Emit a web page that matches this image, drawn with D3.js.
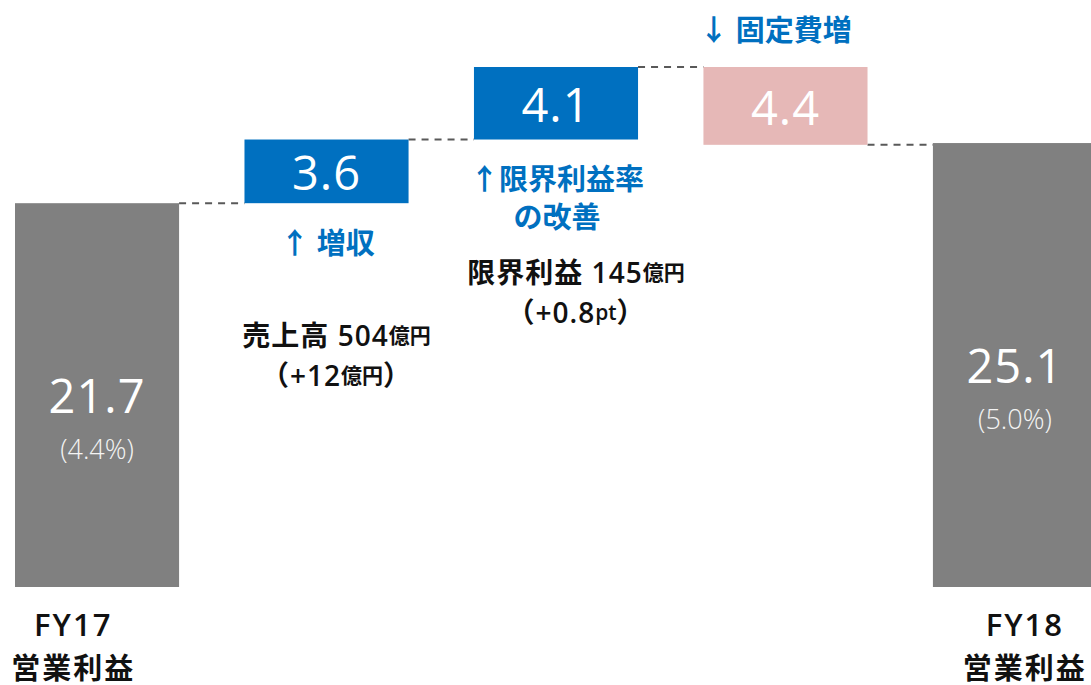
<!DOCTYPE html>
<html>
<head>
<meta charset="utf-8">
<script src="https://cdn.jsdelivr.net/npm/d3@7"></script>
<style>
  body { margin: 0; background: #fff; }
  text { font-family: 'Open Sans', 'Noto Sans CJK JP', sans-serif; }
</style>
</head>
<body>
<div id="chart"></div>
<script>
const steps = ['FY17', '増収', '限界利益率の改善', '固定費増', 'FY18']
const values = [21.7, 3.6, 4.1, -4.4, 25.1]
const kinds = ['total', 'up', 'up', 'down', 'total']
const valueLabels = ['21.7', '3.6', '4.1', '4.4', '25.1']
const ratioLabels = ['(4.4%)', '', '', '', '(5.0%)']
const categoryLabels = [['FY17', '営業利益'], [], [], [], ['FY18', '営業利益']]
const driverLabels = [[], ['↑ 増収'], ['↑限界利益率', 'の改善'], ['↓  固定費増'], []]
const detailLines = [
  [],
  [['売上高 504', '億円'], ['（+12', '億円', '）']],
  [['限界利益 145', '億円'], ['（+0.8', 'pt', '）']],
  [],
  []
]

const colors = { total: '#808080', up: '#0070c0', down: '#e6b8b7' }
const blue = '#0070c0'

const margin = { top: 67, left: 15, right: -6, bottom: 98 }
const width = 1091 - margin.left - margin.right
const height = 685 - margin.top - margin.bottom

const svg = d3
  .select('#chart')
  .append('svg')
  .attr('width', 1091)
  .attr('height', 685)
  .append('g')
  .attr('transform', `translate(${margin.left},${margin.top})`)

// running totals for the waterfall
let cum = 0
const bars = steps.map((s, i) => {
  let y0, y1
  if (kinds[i] === 'total') {
    y0 = 0
    y1 = values[i]
    cum = values[i]
  } else {
    y0 = cum
    y1 = cum + values[i]
    cum = y1
  }
  return { step: s, i, kind: kinds[i], y0, y1, end: kinds[i] === 'total' ? values[i] : y1 }
})

const xScale = d3
  .scaleBand()
  .domain(steps)
  .range([0, width])
  .paddingInner(0.285)
  .paddingOuter(0)

const yScale = d3
  .scaleLinear()
  .domain([0, d3.max(bars, d => Math.max(d.y0, d.y1))])
  .range([height, 0])

const bw = xScale.bandwidth()

// connectors
svg
  .selectAll('.connector')
  .data(bars.slice(0, -1))
  .enter()
  .append('line')
  .attr('x1', d => xScale(d.step) + bw)
  .attr('x2', d => xScale(steps[d.i + 1]))
  .attr('y1', d => yScale(d.end))
  .attr('y2', d => yScale(d.end))
  .attr('stroke', '#595959')
  .attr('stroke-width', 2)
  .attr('stroke-dasharray', '7,6')

svg
  .selectAll('.bar')
  .data(bars)
  .enter()
  .append('rect')
  .attr('x', d => xScale(d.step))
  .attr('width', bw)
  .attr('y', d => yScale(Math.max(d.y0, d.y1)))
  .attr('height', d => Math.abs(yScale(d.y0) - yScale(d.y1)))
  .attr('fill', d => colors[d.kind])

const mid = d => (yScale(d.y0) + yScale(d.y1)) / 2
const cx = d => xScale(d.step) + bw / 2

// values inside bars
svg
  .selectAll('.value-label')
  .data(bars)
  .enter()
  .append('text')
  .text(d => valueLabels[d.i])
  .attr('x', cx)
  .attr('y', d => mid(d) + (d.kind === 'total' ? 0 : 1))
  .attr('text-anchor', 'middle')
  .attr('dominant-baseline', 'central')
  .attr('font-size', 47)
  .attr('letter-spacing', 1)
  .attr('fill', '#fff')

svg
  .selectAll('.ratio-label')
  .data(bars.filter(d => ratioLabels[d.i]))
  .enter()
  .append('text')
  .text(d => ratioLabels[d.i])
  .attr('x', cx)
  .attr('y', d => mid(d) + 53)
  .attr('text-anchor', 'middle')
  .attr('dominant-baseline', 'central')
  .attr('font-size', 27)
  .attr('font-weight', 300)
  .attr('fill', '#f4f4f4')

// category labels under the totals
bars.forEach(d => {
  const lines = categoryLabels[d.i]
  if (!lines.length) return
  const x = d.i === 0 ? xScale(d.step) + bw * 0.355 : xScale(d.step) + bw * 0.56
  lines.forEach((t, j) => {
    svg
      .append('text')
      .text(t)
      .attr('x', x)
      .attr('y', height + 37 + j * 43)
      .attr('text-anchor', 'middle')
      .attr('dominant-baseline', 'central')
      .attr('font-size', j === 0 ? 31 : 29)
      .attr('letter-spacing', 2)
      .attr('font-weight', j === 0 ? 600 : 700)
      .attr('fill', '#111')
  })
})

// blue driver labels
bars.forEach(d => {
  const lines = driverLabels[d.i]
  if (!lines.length) return
  const top = yScale(Math.max(d.y0, d.y1))
  const bottom = yScale(Math.min(d.y0, d.y1))
  lines.forEach((t, j) => {
    const y = d.kind === 'down' ? top - 38 : bottom + 39 + j * 38
    svg
      .append('text')
      .text(t)
      .attr('x', d.kind === 'down' ? cx(d) - 10 : cx(d) + 1)
      .attr('y', y)
      .attr('text-anchor', 'middle')
      .attr('dominant-baseline', 'central')
      .attr('font-size', 29)
      .attr('font-weight', 700)
      .attr('fill', blue)
  })
})

// detail notes below the up bars
bars.forEach(d => {
  const lines = detailLines[d.i]
  if (!lines.length) return
  const bottom = yScale(Math.min(d.y0, d.y1))
  lines.forEach((parts, j) => {
    const t = svg
      .append('text')
      .attr('x', cx(d) + (d.i === 1 ? 10 : 20))
      .attr('y', bottom + 132 + j * 40)
      .attr('text-anchor', 'middle')
      .attr('dominant-baseline', 'central')
      .attr('font-weight', 600)
      .attr('fill', '#111')
    parts.forEach((p, k) => {
      t.append('tspan')
        .text(p)
        .attr('font-size', k === 1 ? 21 : 28)
        .attr('letter-spacing', k === 1 ? 0 : 1)
    })
  })
})
</script>
</body>
</html>
